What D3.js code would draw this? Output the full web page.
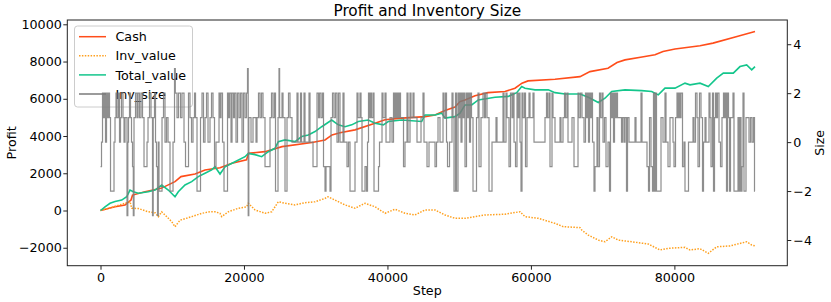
<!DOCTYPE html>
<html>
<head>
<meta charset="utf-8">
<script src="https://cdn.jsdelivr.net/npm/d3@7"></script>
<style>
  body { margin: 0; background: #fff; }
  svg { display: block; }
  text { font-family: "DejaVu Sans", sans-serif; fill: #000; }
</style>
</head>
<body>
<svg width="831" height="302"></svg>
<script>
// Cash, Inv_value, Total_value (profit axis)
var cashSteps = [0, 2021, 3415, 4252, 4461, 6203, 8434, 10385, 11222, 13173, 14567, 16658, 18331, 20352, 20631,
  22931, 25301, 29483, 31296, 32271, 33386, 35477, 38265, 39659, 42029, 45235, 46629, 48023, 49417, 50114,
  50811, 52205, 54017, 56387, 57781, 58757, 59594, 63357, 66843, 68236, 70746, 72000, 73115, 75485, 77297,
  78413, 80086, 83571, 85383, 88729, 91238];
var cashVals = [0, 200, 300, 560, 830, 1010, 1190, 1550, 1820, 1960, 2180, 2300, 2540, 2720, 3070,
  3160, 3430, 3650, 3790, 4060, 4180, 4330, 4690, 4870, 4960, 5040, 5130, 5370, 5560, 5850,
  5940, 6160, 6330, 6390, 6570, 6840, 6960, 7050, 7190, 7460, 7640, 7950, 8090, 8240, 8360,
  8540, 8670, 8850, 8990, 9350, 9610];

var invSteps = [0, 1561, 3415, 4112, 4349, 5269, 6663, 7597, 8057, 8531, 9228, 9925, 10385, 11082, 12713,
  14107, 15264, 15961, 16658, 16895, 17815, 19209, 20380, 20603, 21537, 22931, 23865, 24785, 25719, 27113,
  28507, 29901, 31295, 31713, 32689, 34083, 35477, 36871, 38265, 39659, 41053, 42447, 43841, 45235, 46629,
  48023, 49417, 50811, 52205, 53599, 56387, 58478, 59175, 61029, 63357, 64514, 66843, 67080, 68000, 69394,
  70327, 71261, 72181, 74049, 76363, 77994, 79151, 81479, 82176, 83571, 84728, 85899, 87753, 90080, 90777, 91238];
var invVals = [0, 170, 390, 480, 120, 110, -70, -120, -330, -70, -330, -600, -870, -520, -330,
  -150, -70, -70, -150, -330, -70, 120, 200, 390, 30, -150, -70, 470, 390, 300,
  420, 470, 650, 740, 560, 300, 120, 390, 200, -150, 70, -150, -240, 30, 30,
  -240, -420, -420, -330, -240, -200, -65, -330, -420, -690, -870, -920, -1050, -1320, -1590,
  -1680, -1410, -1590, -1680, -1800, -2120, -2030, -1980, -2120, -2050, -2300, -1950, -1900, -1680, -1850, -1900];

var totalSteps = [0, 627, 1324, 2021, 2955, 3652, 4112, 4572, 5269, 6663, 7597, 8531, 9451, 10385, 10845,
  11779, 12713, 13633, 14567, 15501, 15961, 16658, 17355, 18749, 20143, 20603, 21537, 22471, 23391, 24325,
  24785, 25719, 27113, 28047, 28967, 29901, 30835, 32229, 33149, 34083, 35017, 35937, 37331, 38265, 39422,
  40119, 41987, 44775, 45235, 46629, 47563, 48023, 49417, 50114, 50811, 51745, 52665, 54993, 56847, 58018,
  58715, 59175, 60569, 62423, 63357, 64751, 66843, 68000, 69394, 70327, 71261, 73115, 75443, 76837, 77757,
  78691, 80086, 81479, 82176, 83571, 84728, 85899, 86819, 88213, 89146, 90080, 90777, 91238];
var totalVals = [0, 200, 390, 480, 560, 740, 1100, 1010, 930, 1010, 1100, 1370, 1100, 740, 1010,
  1370, 1550, 1820, 2000, 2180, 2350, 1960, 2350, 2620, 2890, 3070, 3000, 2890, 3160, 3340,
  3700, 3790, 3700, 3970, 4060, 4240, 4500, 4860, 4600, 4500, 4600, 4780, 4860, 4690, 4600,
  4780, 4860, 4780, 5130, 5130, 5230, 4960, 5040, 5230, 5670, 5670, 5940, 6080, 6130, 6330,
  6660, 6570, 6480, 6480, 6330, 6260, 6260, 6080, 5800, 6030, 6390, 6480, 6440, 6390, 6210,
  6570, 6570, 6840, 6750, 6840, 6660, 7110, 7380, 7380, 7730, 7820, 7550, 7730];

// Inv_size (size axis): step where a new level starts, and that level
var sizeSteps = [0, 139, 279, 418, 558, 697, 836, 976, 1115, 1255, 1394, 1882, 2021, 2161, 2300, 2509, 2649, 2788,
  2927, 3137, 3276, 3415, 3694, 3806, 3903, 4043, 4182, 4321, 4461, 4572, 4670, 4879, 5088, 5228, 5437, 5646,
  5855, 6064, 6482, 6622, 6831, 7040, 7249, 7346, 7528, 7667, 7806, 7946, 8057, 8155, 8573, 8782, 8991, 9200,
  9410, 9688, 10107, 10316, 10427, 10664, 10873, 11152, 11361, 11640, 11849, 12267, 12476, 12685, 12895, 13104,
  13243, 13452, 13940, 14149, 14358, 14567, 14776, 14986, 15264, 15473, 15683, 15892, 16101, 16519, 16658, 16798,
  17007, 17216, 17704, 17843, 17983, 18192, 18331, 18540, 18680, 18889, 19098, 19307, 19516, 19725, 19934, 20143,
  20352, 20492, 20589, 20673, 20980, 21259, 21677, 21816, 22025, 22234, 22443, 22653, 22931, 23628, 23837, 24047,
  24256, 24395, 24744, 24883, 24967, 25301, 25441, 25719, 25998, 26207, 26416, 26695, 27392, 27532, 27880, 28019,
  28368, 28508, 29065, 29205, 29623, 30181, 30390, 30529, 30738, 30947, 31086, 31296, 31435, 31993, 32132, 32341,
  32550, 32759, 32968, 33177, 33386, 33805, 33944, 34362, 34571, 34780, 35477, 35756, 35896, 36174, 36314, 36453,
  36871, 37080, 37220, 37359, 37499, 37638, 37777, 37987, 38126, 38753, 38893, 39241, 39381, 39659, 39799, 40356,
  40635, 40844, 40984, 41123, 41262, 41402, 41541, 41681, 41820, 42238, 42447, 42726, 42866, 43144, 43284, 43563,
  43702, 44120, 44678, 44957, 45096, 45514, 45793, 46629, 46838, 47048, 47326, 47745, 47884, 48093, 48232, 48372,
  48651, 48999, 49139, 49278, 49487, 49626, 49836, 49975, 50114, 50254, 50393, 50533, 50672, 50811, 51020, 51160,
  51299, 51439, 51578, 51717, 51927, 52414, 52624, 52763, 53042, 53321, 53530, 53669, 53878, 54157, 54575, 55133,
  55272, 56109, 56248, 56527, 56666, 56945, 57154, 57363, 57503, 57642, 57851, 58060, 58200, 58339, 58478, 58618,
  58757, 58897, 59106, 59245, 59454, 59733, 59872, 60291, 60430, 61963, 62172, 62312, 62521, 62660, 62939, 63079,
  63357, 64054, 64193, 64472, 64682, 64821, 65030, 65170, 65727, 66006, 66564, 66703, 66912, 67121, 67400, 67609,
  67748, 67888, 68027, 68167, 68306, 68445, 68585, 68794, 68933, 69212, 69352, 69561, 69700, 69909, 70049, 70258,
  70467, 70746, 70955, 71094, 71233, 71373, 71512, 71652, 71791, 71930, 72070, 72627, 72767, 72976, 73115, 73324,
  73464, 73673, 74509, 74649, 75346, 75485, 76182, 76391, 76531, 76740, 76949, 77088, 77228, 77367, 77506, 78134,
  78413, 78691, 78831, 79110, 79388, 79807, 79946, 80155, 80364, 80504, 80643, 80782, 80922, 81131, 81340, 81479,
  81967, 82595, 82734, 82943, 83152, 83292, 83501, 83710, 83919, 84058, 84268, 84407, 84825, 84965, 85104, 85313,
  85453, 85592, 85731, 85871, 86010, 86219, 86428, 86637, 86846, 86986, 87125, 87264, 87404, 87543, 87683, 87822,
  88171, 88310, 88868, 89007, 89146, 89286, 89425, 89565, 89704, 89983, 90401, 90610, 90819, 91028, 91168, 91238];
var sizeVals = [-1, 0, 2, 1, 2, 0, 2, 1, 2, 1, -2, 0, 1, 2, 1, 2, 0, 1,
  2, 1, 0, 1, -3, 0, 1, 2, 1, 0, -1, -3, 1, 2, 1, 2, 1, 2,
  1, -1, 0, 1, 2, 1, -3, 1, 2, 0, -1, -3, 0, -2, 1, 2, 0, 1,
  0, -2, 0, 3, 2, 1, 2, 1, 2, 0, -1, 2, 1, 0, 1, 2,
  1, -2, 1, 2, 0, 1, 2, 0, 1, 2, 1, -1, 0, 2, 1, 2,
  0, -2, 2, 1, 2, 0, 2, 1, 2, 0, 2, 1, 2, 0, 2, 1,
  2, 3, -3, 1, 0, 1, 0, 1, 2, 1, 2, 1, -1, 1, 2, 1,
  2, -2, 1, 3, 1, 2, 1, -2, 1, 2, 1, 0, 2, 0, 2, 0,
  2, 0, 2, 0, -1, 2, 1, 2, 1, 2, -1, -2, -1, -2, 1, 2,
  1, 2, 0, 2, 0, 2, 0, -1, 0, -2, 0, 2, 1, 2, 1, -2,
  -1, -2, 0, 2, 1, 2, 1, 2, -2, -1, 0, 2, 1, 2, 0, 1,
  0, 2, 1, 2, 1, 2, 1, 2, 1, -1, 0, 2, 0, 2, 1, 2,
  1, 0, 1, 2, 0, -1, 0, -1, 0, 1, 0, 2, 1, 2, 0, -1,
  0, 2, 1, -2, 2, -2, 2, 1, 2, 0, 2, 1, 2, -1, 2, 1,
  2, 0, 2, 1, -2, 1, 2, -1, 1, 2, 1, 2, 1, -2, 0, 1,
  0, 2, 0, 2, 1, -1, 2, 1, 2, 0, -1, 2, 1, 2, 0, -2,
  2, 1, 2, -1, 1, 2, 1, 2, 0, 1, 2, 1, 2, -1, 2, 1,
  0, 1, 0, 1, 2, 1, 2, 0, 1, -1, 2, 1, 2, 1, 0, 2,
  1, 2, 0, 2, 1, 2, 0, -2, -1, 1, -1, 2, 1, 2, 0, 1,
  -1, 0, -2, 2, 1, 2, 0, 2, 1, 2, 1, 0, 1, 0, 1, -2,
  1, 0, 1, 0, 2, 0, -1, -2, 1, -1, -2, 2, -2, 2, -2, 1,
  0, 2, 0, -1, 1, 0, -1, 1, 2, 1, 2, 1, 2, -1, 0, -2,
  0, 1, 0, 2, 1, -1, 2, 1, -2, 0, 1, 0, 2, 1, -1, 2,
  -2, 1, 2, 1, 2, 0, -1, 1, 2, 1, 2, -2, 2, 1, -2, 1,
  2, -2, 1, -2, 1, -2, -1, 2, -2, 1, 0, 1, 0, 1, -2, -2];

var stepTicks = [0, 20000, 40000, 60000, 80000],
  profitTicks = [-2000, 0, 2000, 4000, 6000, 8000, 10000],
  sizeTicks = [-4, -2, 0, 2, 4];

var seriesNames = ["Cash", "Inv_value", "Total_value", "Inv_size"],
  seriesColors = ["#ff4d1a", "#ffa01e", "#14c68c", "#7a7a7a"];

var svg = d3.select("svg"),
  plotL = 67.3, plotR = 787.3, plotT = 20, plotB = 265.7;

var x = d3.scaleLinear().domain([-4630, 95740]).range([plotL, plotR]),
  yProfit = d3.scaleLinear().domain([-2964, 10231]).range([plotB, plotT]),
  ySize = d3.scaleLinear().domain([-5.05, 4.99]).range([plotB, plotT]);

function minus(v) { return String(v).replace("-", "\u2212"); }

function pairs(steps, vals) {
  return steps.map(function(s, i) { return [s, vals[i]]; });
}

var profitLine = d3.line()
  .x(function(d) { return x(d[0]); })
  .y(function(d) { return yProfit(d[1]); });

var sizeLine = d3.line()
  .curve(d3.curveStepAfter)
  .x(function(d) { return x(d[0]); })
  .y(function(d) { return ySize(d[1]); });

var plot = svg.append("g");

plot.append("path")
  .attr("d", profitLine(pairs(cashSteps, cashVals)))
  .attr("fill", "none")
  .attr("stroke", seriesColors[0])
  .attr("stroke-width", 1.6);

plot.append("path")
  .attr("d", profitLine(pairs(invSteps, invVals)))
  .attr("fill", "none")
  .attr("stroke", seriesColors[1])
  .attr("stroke-width", 1.5)
  .attr("stroke-dasharray", "1.5,1.4");

plot.append("path")
  .attr("d", profitLine(pairs(totalSteps, totalVals)))
  .attr("fill", "none")
  .attr("stroke", seriesColors[2])
  .attr("stroke-width", 1.6);

// Legend belongs to the first axes, so the twin axes' line is drawn over it
var legend = svg.append("g").attr("transform", "translate(74.5,26)");

legend.append("rect")
  .attr("width", 118)
  .attr("height", 81)
  .attr("rx", 3)
  .attr("fill", "#fff")
  .attr("fill-opacity", 0.8)
  .attr("stroke", "#cccccc");

var entry = legend.selectAll(".entry")
  .data(seriesNames)
  .enter().append("g")
    .attr("class", "entry")
    .attr("transform", function(d, i) { return "translate(0," + (10.7 + i * 19.1) + ")"; });

entry.append("line")
  .attr("x1", 4.5)
  .attr("x2", 31.5)
  .attr("stroke", function(d, i) { return seriesColors[i]; })
  .attr("stroke-width", 1.5)
  .attr("stroke-dasharray", function(d, i) { return i == 1 ? "1.5,1.4" : null; });

entry.append("text")
  .attr("x", 41)
  .attr("y", 4.6)
  .style("font-size", "12.7px")
  .text(function(d) { return d; });

svg.append("path")
  .attr("d", sizeLine(pairs(sizeSteps, sizeVals)))
  .attr("fill", "none")
  .attr("stroke", seriesColors[3])
  .attr("stroke-opacity", 0.85)
  .attr("stroke-width", 1.2);

// Frame and axes
svg.append("rect")
  .attr("x", plotL)
  .attr("y", plotT)
  .attr("width", plotR - plotL)
  .attr("height", plotB - plotT)
  .attr("fill", "none")
  .attr("stroke", "#222")
  .attr("stroke-width", 1);

var xAxis = svg.append("g")
  .attr("transform", "translate(0," + plotB + ")")
  .call(d3.axisBottom(x).tickValues(stepTicks).tickSize(4).tickPadding(3).tickFormat(minus));

var yAxisL = svg.append("g")
  .attr("transform", "translate(" + plotL + ",0)")
  .call(d3.axisLeft(yProfit).tickValues(profitTicks).tickSize(4).tickPadding(1.5).tickFormat(minus));

var yAxisR = svg.append("g")
  .attr("transform", "translate(" + plotR + ",0)")
  .call(d3.axisRight(ySize).tickValues(sizeTicks).tickSize(4).tickPadding(2).tickFormat(minus));

[xAxis, yAxisL, yAxisR].forEach(function(a) {
  a.select(".domain").remove();
  a.selectAll(".tick line").attr("stroke", "#222");
  a.selectAll(".tick text")
    .attr("fill", "#000")
    .style("font-family", "'DejaVu Sans', sans-serif")
    .style("font-size", "12.7px");
});

svg.append("text")
  .attr("x", (plotL + plotR) / 2)
  .attr("y", 16)
  .attr("text-anchor", "middle")
  .style("font-size", "15.3px")
  .text("Profit and Inventory Size");

svg.append("text")
  .attr("x", (plotL + plotR) / 2)
  .attr("y", 294.5)
  .attr("text-anchor", "middle")
  .style("font-size", "12.7px")
  .text("Step");

svg.append("text")
  .attr("transform", "translate(16," + (plotT + plotB) / 2 + ") rotate(-90)")
  .attr("text-anchor", "middle")
  .style("font-size", "12.7px")
  .text("Profit");

svg.append("text")
  .attr("transform", "translate(823.5," + (plotT + plotB) / 2 + ") rotate(-90)")
  .attr("text-anchor", "middle")
  .style("font-size", "12.7px")
  .text("Size");
</script>
</body>
</html>
